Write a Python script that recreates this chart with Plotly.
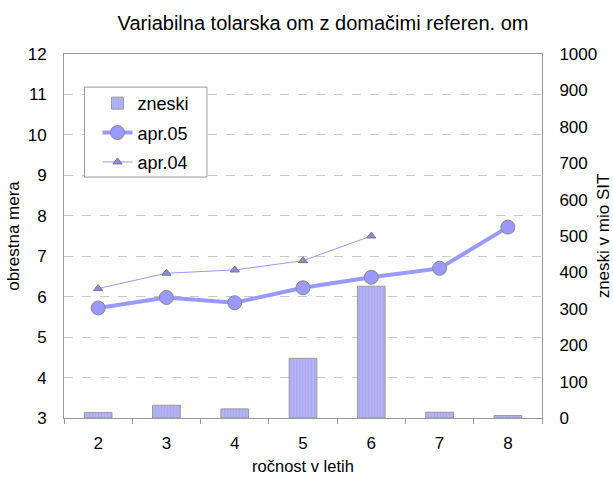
import plotly.graph_objects as go

years = ["2", "3", "4", "5", "6", "7", "8"]
zneski = [15, 35, 25, 164, 362, 16, 7]
apr05 = [5.72, 5.98, 5.85, 6.22, 6.48, 6.70, 7.72]
apr04 = [6.20, 6.58, 6.66, 6.89, 7.50, None, None]

LINE = "#9999ff"
GREY = "#999999"
FONT = "Liberation Sans, Arial, sans-serif"

fig = go.Figure()
fig.add_trace(go.Bar(
    x=years, y=zneski, name="zneski", yaxis="y2", legendgroup="a",
    marker=dict(color="#b4b4f4", line=dict(color=GREY, width=1),
                pattern=dict(shape="|", size=3, solidity=0.3, fgcolor="#9a9aee")),
))
fig.add_trace(go.Scatter(
    x=years, y=apr05, name="apr.05", mode="lines+markers", legendgroup="b",
    line=dict(color=LINE, width=4),
    marker=dict(symbol="circle", size=14, color=LINE, line=dict(color="#888888", width=1)),
))
fig.add_trace(go.Scatter(
    x=years, y=apr04, name="apr.04", mode="lines+markers", legendgroup="c",
    line=dict(color=LINE, width=1),
    marker=dict(symbol="triangle-up", size=8, color="#8c8ce0", line=dict(color="#777777", width=1)),
))

# legend frame drawn as a shape so the entries can sit inset like the original
fig.add_shape(type="rect", xref="paper", yref="paper",
              x0=0.043, x1=0.299, y0=0.662, y1=0.909,
              line=dict(color=GREY, width=1), fillcolor="white", layer="above")

fig.update_layout(
    width=613, height=480,
    paper_bgcolor="white", plot_bgcolor="white",
    font=dict(family=FONT, size=17, color="black"),
    title=dict(text="Variabilna tolarska om z domačimi referen. om", x=0.527, xanchor="center",
               y=0.952, yanchor="middle", font=dict(size=20)),
    margin=dict(l=64, r=71, t=54, b=62),
    bargap=0.595,
    showlegend=True,
    legend=dict(x=0.070, y=0.915, xanchor="left", yanchor="top",
                bgcolor="rgba(0,0,0,0)", borderwidth=0,
                font=dict(size=18), traceorder="grouped", tracegroupgap=3),
    xaxis=dict(type="category", title=dict(text="ročnost v letih", standoff=8, font=dict(size=16.5)),
               automargin=False,
               showline=True, linecolor=GREY, mirror=True,
               ticks="outside", tickson="boundaries", ticklen=5, tickcolor=GREY,
               ticklabelstandoff=10, showgrid=False),
    yaxis=dict(range=[3, 12], dtick=1, title=dict(text="obrestna mera", standoff=3, font=dict(size=17)),
               automargin=False,
               showline=True, linecolor=GREY, mirror=True,
               ticks="", ticklabelstandoff=13,
               showgrid=True, gridcolor="#c8c8c8", griddash="dash", zeroline=False),
    yaxis2=dict(range=[0, 1000], dtick=100, overlaying="y", side="right",
                title=dict(text="zneski v mio SIT", standoff=3, font=dict(size=17)),
                automargin=False,
                showline=True, linecolor=GREY,
                ticks="", ticklabelstandoff=13,
                showgrid=False, zeroline=False),
)

# drop the browser's default body margin so the figure sits at the page origin
fig.write_html("out.html", config={"displayModeBar": False},
               post_script="document.body.style.margin='0';")
